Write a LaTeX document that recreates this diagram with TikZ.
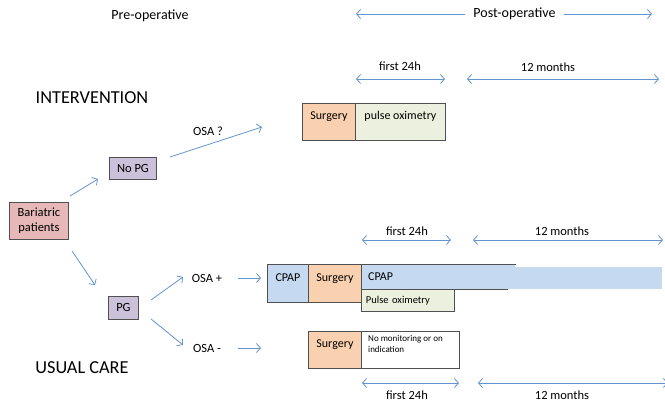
\documentclass[tikz,border=0pt]{standalone}
\usepackage{fontspec}
\setmainfont{Carlito}
\usetikzlibrary{arrows.meta}
\definecolor{arr}{RGB}{100,148,208}
\definecolor{pinkf}{RGB}{230,185,184}
\definecolor{lavf}{RGB}{204,193,218}
\definecolor{peachf}{RGB}{250,209,176}
\definecolor{greenf}{RGB}{235,241,222}
\definecolor{bluef}{RGB}{197,217,241}
\definecolor{bord}{RGB}{80,80,80}
\begin{document}
\begin{tikzpicture}[x=1pt,y=-1pt,
  arrowc/.style={draw=arr, line width=0.8pt, -{Straight Barb[length=4pt,width=9pt]}},
  dbl/.style={draw=arr, line width=0.8pt, {Straight Barb[length=4pt,width=9pt]}-{Straight Barb[length=4pt,width=9pt]}},
  box/.style={draw=bord, line width=0.9pt, inner sep=0pt, anchor=north west, font=\fontsize{12}{14}\selectfont},
  topbox/.style={box, text height=8pt, text depth=12pt},
  lbl/.style={font=\fontsize{12.5}{14}\selectfont, inner sep=0pt},
  head/.style={font=\fontsize{14}{16}\selectfont, inner sep=0pt},
  big/.style={font=\fontsize{18.3}{21}\selectfont, inner sep=0pt},
]
\useasboundingbox (0,0) rectangle (665,403);

% headings
\node[head] (pre) at (150,16) {Pre-operative};
\node[head, inner xsep=8pt] (post) at (514.5,14) {Post-operative};
\coordinate (postL) at (356,14);
\coordinate (postR) at (652,14);
\draw[arrowc] (post.west) -- (postL);
\draw[arrowc] (post.east) -- (postR);

\node[big] (interv) at (92,98) {INTERVENTION};
\node[big] (usual) at (82,368) {USUAL CARE};

% top timeline
\node[lbl] (f24a) at (400,66) {first 24h};
\node[lbl] (m12a) at (548,67) {12 months};
\coordinate (f24aL) at (356,79); \coordinate (f24aR) at (445,79);
\coordinate (m12aL) at (467,79); \coordinate (m12aR) at (659,79);
\draw[dbl] (f24aL) -- (f24aR);
\draw[dbl] (m12aL) -- (m12aR);

% middle timeline
\node[lbl] (f24b) at (407,231) {first 24h};
\node[lbl] (m12b) at (562,231) {12 months};
\coordinate (f24bL) at (362,240); \coordinate (f24bR) at (451,240);
\coordinate (m12bL) at (473,240); \coordinate (m12bR) at (663,240);
\draw[dbl] (f24bL) -- (f24bR);
\draw[dbl] (m12bL) -- (m12bR);

% bottom timeline
\node[lbl] (f24c) at (407,395) {first 24h};
\node[lbl] (m12c) at (562,395) {12 months};
\coordinate (f24cL) at (362,383); \coordinate (f24cR) at (459,383);
\coordinate (m12cL) at (478,383); \coordinate (m12cR) at (668,383);
\draw[dbl] (f24cL) -- (f24cR);
\draw[dbl] (m12cL) -- (m12cR);

% left tree
\node[box, fill=pinkf, minimum width=59pt, minimum height=37pt, align=center, font=\fontsize{12.5}{15}\selectfont] (bar) at (9,202) {Bariatric\\patients};
\node[box, fill=lavf, minimum width=47pt, minimum height=22pt, font=\fontsize{12.5}{14}\selectfont] (nopg) at (109,157) {No PG};
\node[box, fill=lavf, minimum width=30pt, minimum height=23pt, font=\fontsize{12.5}{14}\selectfont] (pg) at (108,296) {PG};

\coordinate (barU) at (70,196); \coordinate (nopgIn) at (98,179);
\coordinate (barD) at (72,251); \coordinate (pgIn) at (95,285);
\draw[arrowc] (barU) -- (nopgIn);
\draw[arrowc] (barD) -- (pgIn);

\node[lbl] (osaq) at (208,131) {OSA ?};
\node[lbl] (osap) at (207,278) {OSA +};
\node[lbl] (osam) at (207,348) {OSA -};

\coordinate (nopgOut) at (170,157); \coordinate (osaqEnd) at (262,127);
\draw[arrowc] (nopgOut) -- (osaqEnd);

\coordinate (pgOutU) at (151,300); \coordinate (osapIn) at (183,277);
\coordinate (pgOutD) at (151,319); \coordinate (osamIn) at (183,345);
\draw[arrowc] (pgOutU) -- (osapIn);
\draw[arrowc] (pgOutD) -- (osamIn);

\coordinate (osapOut) at (238,278); \coordinate (osapEnd) at (261,278);
\coordinate (osamOut) at (238,348); \coordinate (osamEnd) at (261,348);
\draw[arrowc] (osapOut) -- (osapEnd);
\draw[arrowc] (osamOut) -- (osamEnd);

% intervention boxes
\node[topbox, fill=peachf, minimum width=53pt, minimum height=37pt] (surg1) at (302,103) {Surgery};
\node[topbox, fill=greenf, minimum width=90pt, minimum height=37pt] (pox1) at (355,103) {pulse oximetry};

% usual care OSA+ boxes
\fill[bluef] (361,267) rectangle (662,289);
\node[box, fill=bluef, draw=none, minimum width=154pt, minimum height=25pt] (cpap2) at (361,264) {};
\draw[bord, line width=0.9pt] (cpap2.north west) -- (cpap2.north east);
\draw[bord, line width=0.9pt] (cpap2.south west) -- ([xshift=-8pt]cpap2.south east);
\node[anchor=west, inner sep=0pt, font=\fontsize{12}{14}\selectfont] (cpap2t) at (368,277) {CPAP};
\node[topbox, fill=bluef, minimum width=41pt, minimum height=38pt] (cpap1) at (267,264) {CPAP};
\node[topbox, fill=peachf, minimum width=53pt, minimum height=38pt] (surg2) at (308,264) {Surgery};
\node[box, fill=greenf, minimum width=93pt, minimum height=22pt, font=\fontsize{10.5}{12}\selectfont, text width=84pt, align=left] (pox2) at (361,289) {Pulse oximetry};

% usual care OSA- boxes
\node[topbox, fill=peachf, minimum width=53pt, minimum height=37pt] (surg3) at (308,331) {Surgery};
\node[box, fill=white, minimum width=98pt, minimum height=37pt] (nomon) at (361,331) {};
\node[anchor=north west, inner sep=0pt, align=left, font=\fontsize{9}{11}\selectfont] (nomont) at (368,335) {No monitoring or on\\indication};
\end{tikzpicture}
\end{document}
